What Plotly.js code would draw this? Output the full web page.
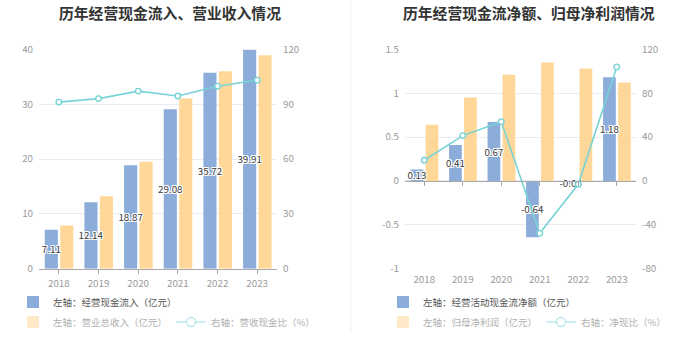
<!DOCTYPE html>
<html>
<head>
<meta charset="utf-8">
<script src="https://cdn.plot.ly/plotly-3.0.1.min.js"></script>
<style>
  html, body { margin: 0; padding: 0; background: #fff; }
  #chart { width: 699px; height: 359px; }
</style>
</head>
<body>
<div id="chart"></div>
<script>
// ---- data ----
const years = ['2018', '2019', '2020', '2021', '2022', '2023'];
const cashInflow = [7.11, 12.14, 18.87, 29.08, 35.72, 39.91];      // 经营现金流入（亿元）
const revenue = [7.9, 13.2, 19.5, 31.0, 36.0, 38.9];               // 营业总收入（亿元）
const cashRatio = [91.1, 93.0, 97.1, 94.4, 99.8, 103.1];           // 营收现金比（%）
const netCashFlow = [0.13, 0.41, 0.67, -0.64, -0.04, 1.18];        // 经营活动现金流净额（亿元）
const netProfit = [0.64, 0.95, 1.21, 1.35, 1.28, 1.12];            // 归母净利润（亿元）
const netCashRatio = [18.9, 41.3, 54.0, -47.7, -3.0, 103.9];       // 净现比（%）

const y3TickVals = [-1, -0.5, 0, 0.5, 1, 1.5];
const y3TickText = ['-1', '-0.5', '0', '0.5', '1', '1.5'];
const y4TickVals = [-80, -40, 0, 40, 80, 120];
const y4TickText = ['-80', '-40', '0', '40', '80', '120'];

const titles = ['历年经营现金流入、营业收入情况', '历年经营现金流净额、归母净利润情况'];
const names = {
  inflow: '左轴：经营现金流入（亿元）',
  revenue: '左轴：营业总收入（亿元）',
  cashRatio: '右轴：营收现金比（%）',
  netCash: '左轴：经营活动现金流净额（亿元）',
  profit: '左轴：归母净利润（亿元）',
  netRatio: '右轴：净现比（%）'
};

// ---- style ----
const FONT = '"Noto Sans CJK SC", "Noto Sans", sans-serif';
const BLUE = '#8CACDA';
const YELLOW = '#FFD899';
const TEAL = '#78D3D7';
const LIGHT_YELLOW = '#FFE9C9';
const LIGHT_TEAL = '#B8E8EA';
const GRID = '#E8ECF3';
const AXIS = '#A8A8A8';
const TICK = '#9A9A9A';
const W = 699, H = 359;

const outline = '1px 0 0 #fff, -1px 0 0 #fff, 0 1px 0 #fff, 0 -1px 0 #fff, 1px 1px 0 #fff, -1px -1px 0 #fff, 1px -1px 0 #fff, -1px 1px 0 #fff';
const labelFont = { family: FONT, size: 9.8, color: '#3a3a3a', shadow: outline };

// bar slot geometry (fraction of category width)
const BAR_W = 0.33;
const BLUE_OFF = -0.355;
const YELLOW_OFF = 0.035;

function px(x) { return x / W; }
function py(y) { return 1 - y / H; }

const dom1x = [px(39), px(277)];
const dom2x = [px(405), px(636)];
const domY = [py(268.8), py(49.2)];
const y3Range = [-1, 1.5];
const zeroPos = domY[0] + (0 - y3Range[0]) / (y3Range[1] - y3Range[0]) * (domY[1] - domY[0]);

const barCommon = {
  type: 'bar',
  width: BAR_W,
  textposition: 'inside',
  insidetextanchor: 'middle',
  constraintext: 'none',
  textangle: 0,
  cliponaxis: false,
  hoverinfo: 'skip'
};

const traces = [
  // yellow bars first so the blue bar labels sit on top of them
  Object.assign({}, barCommon, {
    x: years, y: revenue, name: names.revenue, offset: YELLOW_OFF,
    textposition: 'none',
    marker: { color: YELLOW },
    xaxis: 'x', yaxis: 'y', showlegend: false
  }),
  Object.assign({}, barCommon, {
    x: years, y: cashInflow, name: names.inflow, offset: BLUE_OFF,
    text: cashInflow.map(String),
    insidetextfont: labelFont, textfont: labelFont,
    marker: { color: BLUE },
    xaxis: 'x', yaxis: 'y', legend: 'legend'
  }),
  {
    type: 'scatter', mode: 'lines+markers',
    x: years, y: cashRatio, name: names.cashRatio,
    line: { color: TEAL, width: 1.6 },
    marker: { symbol: 'circle', size: 5.5, color: '#fff', line: { color: TEAL, width: 1.4 } },
    xaxis: 'x', yaxis: 'y2', showlegend: false, hoverinfo: 'skip', cliponaxis: false
  },
  Object.assign({}, barCommon, {
    x: years, y: netProfit, name: names.profit, offset: YELLOW_OFF,
    textposition: 'none',
    marker: { color: YELLOW },
    xaxis: 'x2', yaxis: 'y3', showlegend: false
  }),
  Object.assign({}, barCommon, {
    x: years, y: netCashFlow, name: names.netCash, offset: BLUE_OFF,
    text: netCashFlow.map(String),
    insidetextfont: labelFont, textfont: labelFont,
    marker: { color: BLUE },
    xaxis: 'x2', yaxis: 'y3', legend: 'legend3'
  }),
  {
    type: 'scatter', mode: 'lines+markers',
    x: years, y: netCashRatio, name: names.netRatio,
    line: { color: TEAL, width: 1.6 },
    marker: { symbol: 'circle', size: 5.5, color: '#fff', line: { color: TEAL, width: 1.4 } },
    xaxis: 'x3', yaxis: 'y4', showlegend: false, hoverinfo: 'skip', cliponaxis: false
  },
  // legend-only entries (lighter second legend row)
  { type: 'bar', x: [null], y: [null], name: names.revenue, marker: { color: LIGHT_YELLOW },
    xaxis: 'x4', yaxis: 'y5', legend: 'legend2' },
  { type: 'scatter', mode: 'lines+markers', x: [null], y: [null], name: names.cashRatio,
    line: { color: LIGHT_TEAL, width: 1.6 },
    marker: { size: 9, color: '#fff', line: { color: LIGHT_TEAL, width: 1.4 } },
    xaxis: 'x4', yaxis: 'y5', legend: 'legend2' },
  { type: 'bar', x: [null], y: [null], name: names.profit, marker: { color: LIGHT_YELLOW },
    xaxis: 'x4', yaxis: 'y5', legend: 'legend4' },
  { type: 'scatter', mode: 'lines+markers', x: [null], y: [null], name: names.netRatio,
    line: { color: LIGHT_TEAL, width: 1.6 },
    marker: { size: 9, color: '#fff', line: { color: LIGHT_TEAL, width: 1.4 } },
    xaxis: 'x4', yaxis: 'y5', legend: 'legend4' }
];

const tickFont = { family: FONT, size: 9.8, color: TICK };
const legendBase = {
  orientation: 'h', xanchor: 'left', yanchor: 'middle',
  bgcolor: 'rgba(0,0,0,0)', borderwidth: 0, itemclick: false, itemdoubleclick: false,
  itemwidth: 30, tracegroupgap: 0
};

const layout = {
  width: W, height: H,
  margin: { l: 0, r: 0, t: 0, b: 0, pad: 0 },
  paper_bgcolor: '#fff', plot_bgcolor: 'rgba(0,0,0,0)',
  font: { family: FONT, size: 10, color: '#555' },
  barmode: 'overlay',
  showlegend: true, hovermode: false,
  xaxis: {
    domain: dom1x, anchor: 'y', type: 'category', range: [-0.5, 5.5],
    showline: true, linecolor: AXIS, linewidth: 1,
    ticks: 'outside', ticklen: 4, tickcolor: AXIS, tickwidth: 1,
    tickfont: tickFont, ticklabelstandoff: 1, showgrid: false, zeroline: false, fixedrange: true
  },
  yaxis: {
    domain: domY, anchor: 'x', range: [0, 40], dtick: 10, tick0: 0,
    showgrid: true, gridcolor: GRID, gridwidth: 1, zeroline: false, showline: false,
    ticks: '', tickfont: tickFont, ticklabelstandoff: 5, fixedrange: true
  },
  yaxis2: {
    overlaying: 'y', anchor: 'x', side: 'right', range: [0, 120], dtick: 30, tick0: 0,
    showgrid: false, zeroline: false, showline: false,
    ticks: '', tickfont: tickFont, ticklabelstandoff: 5, fixedrange: true
  },
  xaxis2: {
    domain: dom2x, anchor: 'free', position: zeroPos, type: 'category', range: [-0.5, 5.5],
    showline: true, linecolor: AXIS, linewidth: 1,
    ticks: 'outside', ticklen: 4, tickcolor: AXIS, tickwidth: 1,
    showticklabels: false, showgrid: false, zeroline: false, fixedrange: true
  },
  xaxis3: {
    overlaying: 'x2', anchor: 'y3', side: 'bottom', type: 'category', range: [-0.5, 5.5],
    showline: false, ticks: '', tickfont: tickFont, ticklabelstandoff: 3,
    showgrid: false, zeroline: false, fixedrange: true
  },
  yaxis3: {
    domain: domY, anchor: 'x2', range: y3Range, tickvals: y3TickVals, ticktext: y3TickText,
    showgrid: true, gridcolor: GRID, gridwidth: 1, zeroline: false, showline: false,
    ticks: '', tickfont: tickFont, ticklabelstandoff: 5, fixedrange: true
  },
  yaxis4: {
    overlaying: 'y3', anchor: 'x2', side: 'right', range: [-80, 120],
    tickvals: y4TickVals, ticktext: y4TickText,
    showgrid: false, zeroline: false, showline: false,
    ticks: '', tickfont: tickFont, ticklabelstandoff: 5, fixedrange: true
  },
  xaxis4: { domain: [0, 0.01], anchor: 'y5', visible: false, fixedrange: true },
  yaxis5: { domain: [0, 0.01], anchor: 'x4', visible: false, fixedrange: true },
  legend: Object.assign({}, legendBase, { x: px(13), y: py(302), font: { family: FONT, size: 9.5, color: '#555' } }),
  legend2: Object.assign({}, legendBase, { x: px(13), y: py(322), entrywidth: 113, font: { family: FONT, size: 9.5, color: '#B0B0B0' } }),
  legend3: Object.assign({}, legendBase, { x: px(383), y: py(302), font: { family: FONT, size: 9.5, color: '#555' } }),
  legend4: Object.assign({}, legendBase, { x: px(383), y: py(322), entrywidth: 113, font: { family: FONT, size: 9.5, color: '#B0B0B0' } }),
  annotations: [
    { text: '<b>' + titles[0] + '</b>', xref: 'paper', yref: 'paper', x: px(170), y: py(12),
      xanchor: 'center', yanchor: 'middle', showarrow: false,
      font: { family: FONT, size: 14.8, color: '#333' } },
    { text: '<b>' + titles[1] + '</b>', xref: 'paper', yref: 'paper', x: px(529), y: py(12),
      xanchor: 'center', yanchor: 'middle', showarrow: false,
      font: { family: FONT, size: 14.8, color: '#333' } }
  ],
  shapes: [
    { type: 'line', xref: 'paper', yref: 'paper', x0: px(351), x1: px(351), y0: py(333), y1: 1,
      line: { color: '#F0F0F0', width: 1 } }
  ]
};

Plotly.newPlot('chart', traces, layout, { displayModeBar: false, staticPlot: true });
</script>
</body>
</html>
